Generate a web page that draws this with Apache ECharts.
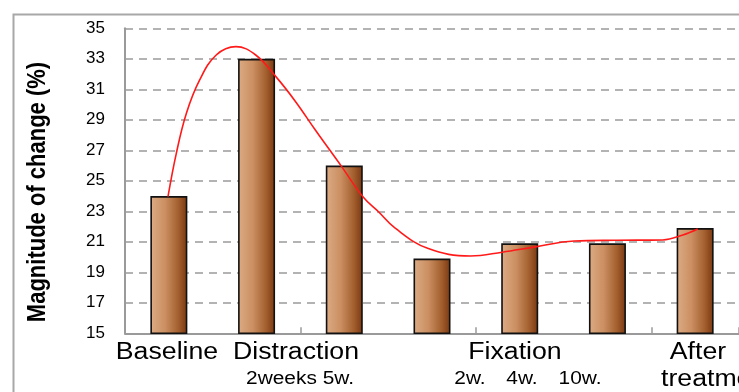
<!DOCTYPE html>
<html>
<head>
<meta charset="utf-8">
<script src="https://cdn.jsdelivr.net/npm/echarts@6/dist/echarts.min.js"></script>
<style>
  html, body { margin: 0; padding: 0; background: #fff; }
  #chart { width: 739px; height: 392px; }
</style>
</head>
<body>
<div id="chart"></div>
<script>
// Measurement stages (one bar each)
const categories = ['Baseline', 'Distraction 2weeks', 'Distraction 5w.', 'Fixation 2w.', 'Fixation 4w.', 'Fixation 10w.', 'After treatment'];
// Magnitude of change (%) per stage
const values = [24, 33, 26, 19.9, 20.9, 20.9, 21.9];
// Freehand trend curve: position along the category axis (in bands) and value
const trendX = [0.49, 0.585, 0.70, 0.85, 1.04, 1.265, 1.49, 1.72, 1.945, 2.17, 2.47, 2.72, 2.89, 3.08, 3.45, 3.94, 4.30, 4.66, 5.12, 5.6, 6.13, 6.36, 6.53];
const trendY = [23.96, 26.8, 29.43, 31.6, 33.25, 33.8, 33.25, 31.83, 30.19, 28.33, 25.93, 23.9, 22.97, 21.89, 20.57, 20.07, 20.32, 20.65, 21.05, 21.1, 21.12, 21.45, 21.84];
// Y axis scale
const yMin = 15, yMax = 35, yStep = 2;
// Text under the axis
const groupLabels = ['Baseline', 'Distraction', 'Fixation', 'After', 'treatment'];
const subLabels = ['2weeks 5w.', '2w.', '4w.', '10w.'];
const yTitle = 'Magnitude of change (%)';

const FONT = '"Liberation Sans", Arial, sans-serif';
const chart = echarts.init(document.getElementById('chart'), null, { renderer: 'canvas' });

const barFill = new echarts.graphic.LinearGradient(0, 0, 1, 0, [
  { offset: 0, color: '#dcab84' },
  { offset: 0.4, color: '#cb8f62' },
  { offset: 0.75, color: '#a4602f' },
  { offset: 1, color: '#7a3710' }
]);

function bigText(t, x, y, align) {
  return {
    type: 'text', x: x, y: y, scaleX: 1.16,
    style: { text: t, font: '23px ' + FONT, fill: '#000', align: align || 'center', verticalAlign: 'middle' }
  };
}
function smallText(t, x, y) {
  return {
    type: 'text', x: x, y: y, scaleX: 1.16,
    style: { text: t, font: '18px ' + FONT, fill: '#000', align: 'center', verticalAlign: 'middle' }
  };
}

chart.setOption({
  animation: false,
  backgroundColor: '#fff',
  grid: { left: 125, top: 28.3, width: 620, height: 305, containLabel: false },
  xAxis: [
    {
      type: 'category',
      data: categories,
      axisLine: { show: true, lineStyle: { color: '#9a9a9a', width: 2 } },
      axisTick: { show: true, inside: true, length: 6, alignWithLabel: false, lineStyle: { color: '#9a9a9a', width: 1.5 } },
      axisLabel: { show: false },
      splitLine: { show: false }
    },
    {
      type: 'value', min: 0, max: categories.length, show: false, position: 'bottom'
    }
  ],
  yAxis: {
    type: 'value',
    min: yMin, max: yMax, interval: yStep,
    axisLine: { show: true, lineStyle: { color: '#9a9a9a', width: 2 } },
    axisTick: { show: false },
    axisLabel: { color: '#000', fontSize: 17, fontFamily: FONT, margin: 20 },
    splitLine: { show: true, lineStyle: { color: '#9a9a9a', width: 1.5, type: [8, 6] } }
  },
  series: [
    {
      type: 'bar',
      xAxisIndex: 0,
      data: values,
      barWidth: 37,
      itemStyle: { color: barFill, borderColor: '#111', borderWidth: 1.6 },
      z: 2
    },
    {
      type: 'line',
      xAxisIndex: 1,
      data: trendX.map((x, i) => [x, trendY[i]]),
      smooth: 0.4,
      showSymbol: false,
      lineStyle: { color: '#ff1a1a', width: 1.6 },
      z: 3
    }
  ],
  graphic: [
    // outer frame
    { type: 'rect', shape: { x: 13.5, y: 14.5, width: 800, height: 500 }, style: { fill: null, stroke: '#a8a8a8', lineWidth: 2 }, z: -1 },
    // y axis title
    {
      type: 'text', x: 38, y: 192, rotation: Math.PI / 2, scaleY: 1.16,
      style: { text: yTitle, font: 'bold 22px ' + FONT, fill: '#000', align: 'center', verticalAlign: 'middle' }
    },
    bigText(groupLabels[0], 167, 353),
    bigText(groupLabels[1], 296, 353),
    bigText(groupLabels[2], 515, 353),
    bigText(groupLabels[3], 698, 353),
    bigText(groupLabels[4], 661, 380, 'left'),
    smallText(subLabels[0], 300, 379),
    smallText(subLabels[1], 470, 379),
    smallText(subLabels[2], 522, 379),
    smallText(subLabels[3], 580, 379)
  ]
});
</script>
</body>
</html>
